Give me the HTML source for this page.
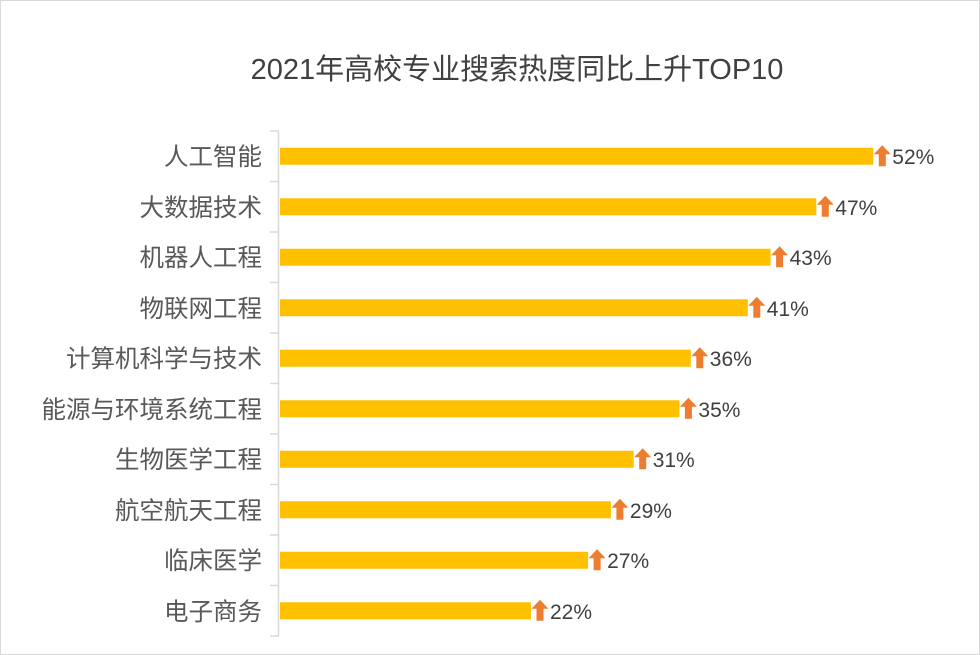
<!DOCTYPE html>
<html><head><meta charset="utf-8"><style>body{margin:0;background:#fff}svg{display:block}</style></head>
<body>
<svg width="980" height="655" xmlns="http://www.w3.org/2000/svg" font-family="'Liberation Sans','Noto Sans CJK SC',sans-serif">
<defs><path id="ar" d="M0 -11 L8.5 -2 L3.5 -2 L3.5 10 L-3.5 10 L-3.5 -2 L-8.5 -2 Z" fill="#ed7d31"/></defs>
<rect x="0.5" y="0.5" width="979" height="654" fill="#fff" stroke="#d9d9d9"/>
<text x="517" y="79" text-anchor="middle" font-size="29" fill="#404040">2021年高校专业搜索热度同比上升TOP10</text>
<g stroke="#d9d9d9" stroke-width="1.5">
<line x1="278.5" y1="131" x2="278.5" y2="636"/>
<line x1="270" y1="131" x2="279" y2="131"/><line x1="270" y1="181.5" x2="279" y2="181.5"/><line x1="270" y1="232" x2="279" y2="232"/><line x1="270" y1="282.5" x2="279" y2="282.5"/><line x1="270" y1="333" x2="279" y2="333"/><line x1="270" y1="383.5" x2="279" y2="383.5"/><line x1="270" y1="434" x2="279" y2="434"/><line x1="270" y1="484.5" x2="279" y2="484.5"/><line x1="270" y1="535" x2="279" y2="535"/><line x1="270" y1="585.5" x2="279" y2="585.5"/><line x1="270" y1="636" x2="279" y2="636"/>
</g>
<g font-size="24.5" fill="#595959" text-anchor="end">
<text x="262" y="165">人工智能</text>
<text x="262" y="216">大数据技术</text>
<text x="262" y="266">机器人工程</text>
<text x="262" y="317">物联网工程</text>
<text x="262" y="367">计算机科学与技术</text>
<text x="262" y="418">能源与环境系统工程</text>
<text x="262" y="468">生物医学工程</text>
<text x="262" y="519">航空航天工程</text>
<text x="262" y="569">临床医学</text>
<text x="262" y="620">电子商务</text>
</g>
<g fill="#ffc000">
<rect x="280" y="147.75" width="593.3" height="17"/>
<rect x="280" y="198.25" width="536.3" height="17"/>
<rect x="280" y="248.75" width="490.6" height="17"/>
<rect x="280" y="299.25" width="467.8" height="17"/>
<rect x="280" y="349.75" width="410.8" height="17"/>
<rect x="280" y="400.25" width="399.4" height="17"/>
<rect x="280" y="450.75" width="353.7" height="17"/>
<rect x="280" y="501.25" width="330.9" height="17"/>
<rect x="280" y="551.75" width="308.1" height="17"/>
<rect x="280" y="602.25" width="251.0" height="17"/>
</g>
<use href="#ar" x="882.3" y="156.25"/>
<use href="#ar" x="825.3" y="206.75"/>
<use href="#ar" x="779.6" y="257.25"/>
<use href="#ar" x="756.8" y="307.75"/>
<use href="#ar" x="699.8" y="358.25"/>
<use href="#ar" x="688.4" y="408.75"/>
<use href="#ar" x="642.7" y="459.25"/>
<use href="#ar" x="619.9" y="509.75"/>
<use href="#ar" x="597.1" y="560.25"/>
<use href="#ar" x="540.0" y="610.75"/>
<g font-size="21" fill="#404040">
<text x="892.3" y="164">52%</text>
<text x="835.3" y="215">47%</text>
<text x="789.6" y="265">43%</text>
<text x="766.8" y="316">41%</text>
<text x="709.8" y="366">36%</text>
<text x="698.4" y="417">35%</text>
<text x="652.7" y="467">31%</text>
<text x="629.9" y="518">29%</text>
<text x="607.1" y="568">27%</text>
<text x="550.0" y="619">22%</text>
</g>
</svg>
</body></html>
